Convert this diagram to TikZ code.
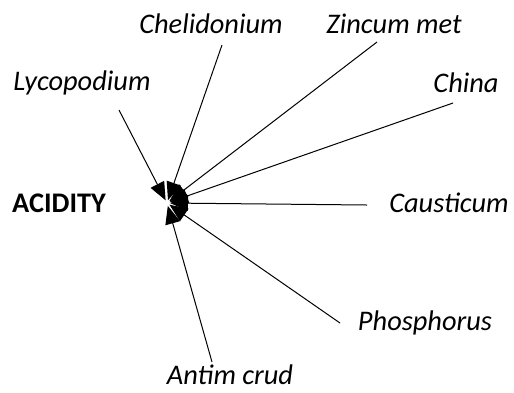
\documentclass[tikz,border=0pt]{standalone}
\usepackage{fontspec}
\setmainfont{Carlito}
\usetikzlibrary{arrows.meta}
\begin{document}
\begin{tikzpicture}[x=1bp,y=-1bp,
  lbl/.style={font=\fontsize{28.5}{32}\selectfont\itshape, inner sep=0pt},
  conn/.style={line width=1bp, -{Triangle[length=18bp,width=15bp]}, shorten >=3bp}]
\useasboundingbox (0,0) rectangle (514,392);
\node[font=\fontsize{28.5}{32}\selectfont\bfseries, inner sep=0pt] (acid) at (59,203) {ACIDITY};
\node[lbl] (chel) at (211,24) {Chelidonium};
\node[lbl] (zinc) at (394,24) {Zincum met};
\node[lbl] (lyco) at (82,83) {Lycopodium};
\node[lbl] (china) at (466,83) {China};
\node[lbl] (caus) at (449,203) {Causticum};
\node[lbl] (phos) at (425,323) {Phosphorus};
\node[lbl, anchor=base] (anti) at (230,384) {Antim crud};
\coordinate (c) at (167,203);
\coordinate (sLyco) at (119,110);
\coordinate (sChel) at (222,45);
\coordinate (sZinc) at (377,42);
\coordinate (sChina) at (453,103);
\coordinate (sCaus) at (367,205);
\coordinate (sPhos) at (340,323);
\coordinate (sAnti) at (212,362);
\draw[conn] (sLyco) -- (c);
\draw[conn] (sChel) -- (c);
\draw[conn] (sZinc) -- (c);
\draw[conn] (sChina) -- (c);
\draw[conn] (sCaus) -- (c);
\draw[conn] (sPhos) -- (c);
\draw[conn] (sAnti) -- (c);
\end{tikzpicture}
\end{document}
